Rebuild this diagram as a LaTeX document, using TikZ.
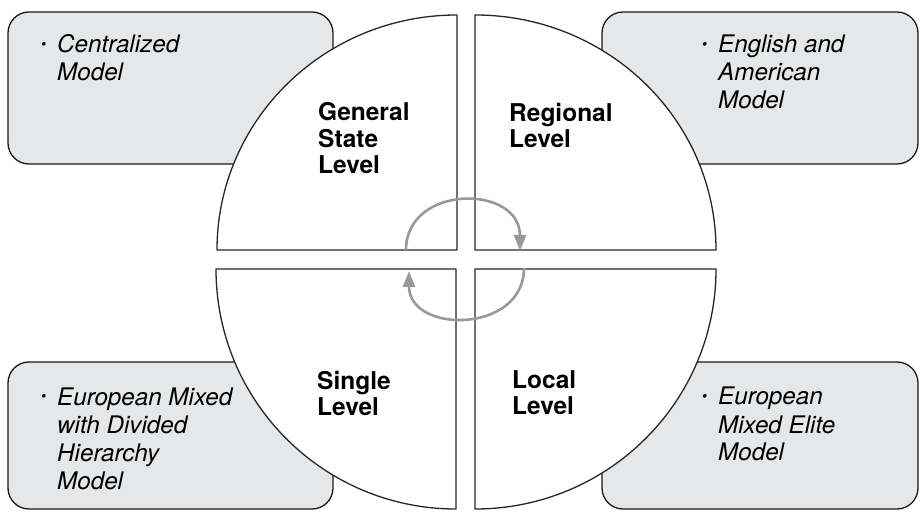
\documentclass[tikz,border=0pt]{standalone}
\usepackage{fontspec}
\setmainfont{TeX Gyre Heros}
\usepackage{tikz}
\usetikzlibrary{arrows.meta}
\definecolor{boxgray}{HTML}{E6E7E8}
\newcommand{\mybullet}{\llap{\raisebox{3.5pt}{\fontsize{15}{15}\selectfont\textbullet}\hspace{11pt}}}

\begin{document}
\begin{tikzpicture}[x=1pt,y=1pt,line join=round]
    \tikzstyle{box}=[draw=black!90, fill=boxgray, line width=1.3pt, rounded corners=21pt]
    \tikzstyle{quad}=[draw=black!85, fill=white, line width=1.3pt]
    \tikzstyle{level}=[font=\fontsize{24.5}{26.7}\selectfont\bfseries, align=left, anchor=base west, inner sep=0pt]
    \tikzstyle{model}=[font=\fontsize{24.2}{28}\selectfont\itshape, align=left, anchor=base west, inner sep=0pt]
    \tikzstyle{flow}=[draw=black!40, line width=2.6pt, -{Triangle[length=16pt,width=12pt]}]

    \useasboundingbox (0,0) rectangle (920,511);

    % model boxes
    \draw[box] (8,347) rectangle (333,499);
    \draw[box] (602,347) rectangle (918,499);
    \draw[box] (8,2) rectangle (333,149);
    \draw[box] (602,2) rectangle (918,149);

    % four quarters
    \draw[quad] (457,261) -- (217,261) arc[start angle=180,end angle=90,x radius=240,y radius=235] -- cycle;
    \draw[quad] (475,261) -- (475,496) arc[start angle=90,end angle=0,x radius=241,y radius=235] -- cycle;
    \draw[quad] (456,242) -- (216,242) arc[start angle=180,end angle=270,x radius=240,y radius=240] -- cycle;
    \draw[quad] (475,242) -- (475,2) arc[start angle=270,end angle=360,x radius=241,y radius=240] -- cycle;

    % anchors sit on the last line
    \node[model] (m1) at (57,430) {\mybullet Centralized\\Model};
    \node[model] (m2) at (718,402) {\mybullet English and\\American\\Model};
    \node[model] (m3) at (57,22) {\mybullet European Mixed\\with Divided\\Hierarchy\\Model};
    \node[model] (m4) at (718,50) {\mybullet European\\Mixed Elite\\Model};

    \node[level] (g) at (318,337) {General\\State\\Level};
    \node[level] (r) at (509,363) {Regional\\Level};
    \node[level] (s) at (317,95) {Single\\Level};
    \node[level] (l) at (512,96) {Local\\Level};

    % cycle arrows
    \coordinate (a1) at (406,261);
    \coordinate (a2) at (520,260);
    \coordinate (b1) at (524,243);
    \coordinate (b2) at (409,240);
    \draw[flow] (a1) .. controls (406,327) and (520,327) .. (a2);
    \draw[flow] (b1) .. controls (524,177) and (409,177) .. (b2);

\end{tikzpicture}
\end{document}
